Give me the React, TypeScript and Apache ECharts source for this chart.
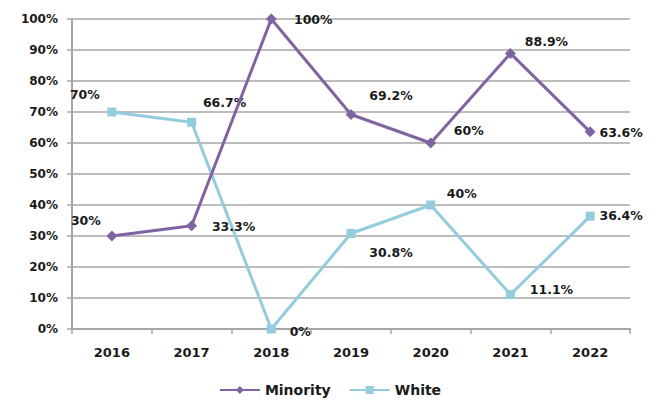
import React, { useEffect, useRef } from "react";
import * as echarts from "echarts";

const years = ["2016", "2017", "2018", "2019", "2020", "2021", "2022"];
const minority = [30, 33.3, 100, 69.2, 60, 88.9, 63.6];
const white = [70, 66.7, 0, 30.8, 40, 11.1, 36.4];

// label offsets (px) from each marker
const minorityOffsets = [[-26, -16], [42, 1], [42, 0], [40, -19], [38, -13], [36, -12], [31, 1]];
const whiteOffsets = [[-27, -18], [33, -20], [29, 2], [40, 19], [31, -12], [41, -5], [31, -1]];

const FONT = "'DejaVu Sans', sans-serif";
const PURPLE = "#8064A2";
const BLUE = "#93CDDD";

function build(values: number[], offsets: number[][]) {
  return values.map((v, i) => ({
    value: v,
    label: {
      show: true,
      position: "inside",
      offset: offsets[i],
      formatter: `${v}%`,
    },
  }));
}

export default function App() {
  const ref = useRef<HTMLDivElement>(null);
  useEffect(() => {
    if (!ref.current) return;
    const chart = echarts.init(ref.current, undefined, { renderer: "svg" });
    const labelStyle = {
      fontFamily: FONT,
      fontWeight: "bold",
      fontSize: 12.5,
      color: "#1a1a1a",
      align: "center",
      verticalAlign: "middle",
    };
    chart.setOption({
      animation: false,
      backgroundColor: "#ffffff",
      grid: { left: 72, right: 30, top: 19, bottom: 78, containLabel: false },
      xAxis: {
        type: "category",
        data: years,
        boundaryGap: true,
        axisLine: { show: true, lineStyle: { color: "#a6a6a6", width: 2 } },
        axisTick: { show: true, length: 5, lineStyle: { color: "#a6a6a6", width: 1.5 } },
        axisLabel: {
          fontFamily: FONT,
          fontWeight: "bold",
          fontSize: 13,
          color: "#1a1a1a",
          margin: 17,
        },
      },
      yAxis: {
        type: "value",
        min: 0,
        max: 100,
        interval: 10,
        axisLine: { show: true, lineStyle: { color: "#a6a6a6", width: 2 } },
        axisTick: { show: true, length: 5, lineStyle: { color: "#a6a6a6", width: 1.5 } },
        splitLine: { show: true, lineStyle: { color: "#bdbdbd", width: 2 } },
        axisLabel: {
          fontFamily: FONT,
          fontWeight: "bold",
          fontSize: 12,
          color: "#1a1a1a",
          margin: 14,
          formatter: (v: number) => `${v}%`,
        },
      },
      legend: {
        bottom: 5,
        left: "center",
        itemWidth: 40,
        itemHeight: 10,
        itemGap: 18,
        textStyle: { fontFamily: FONT, fontSize: 14, fontWeight: "bold", color: "#1a1a1a" },
        data: ["Minority", "White"],
      },
      series: [
        {
          name: "Minority",
          type: "line",
          data: build(minority, minorityOffsets),
          symbol: "diamond",
          symbolSize: 11,
          lineStyle: { color: PURPLE, width: 3 },
          itemStyle: { color: PURPLE },
          label: labelStyle,
          z: 3,
        },
        {
          name: "White",
          type: "line",
          data: build(white, whiteOffsets),
          symbol: "rect",
          symbolSize: 9,
          lineStyle: { color: BLUE, width: 3 },
          itemStyle: { color: BLUE },
          label: labelStyle,
          z: 2,
        },
      ],
    });
    return () => chart.dispose();
  }, []);
  return (
    <div
      ref={ref}
      style={{ position: "fixed", left: 0, top: 0, width: 660, height: 407 }}
    />
  );
}
